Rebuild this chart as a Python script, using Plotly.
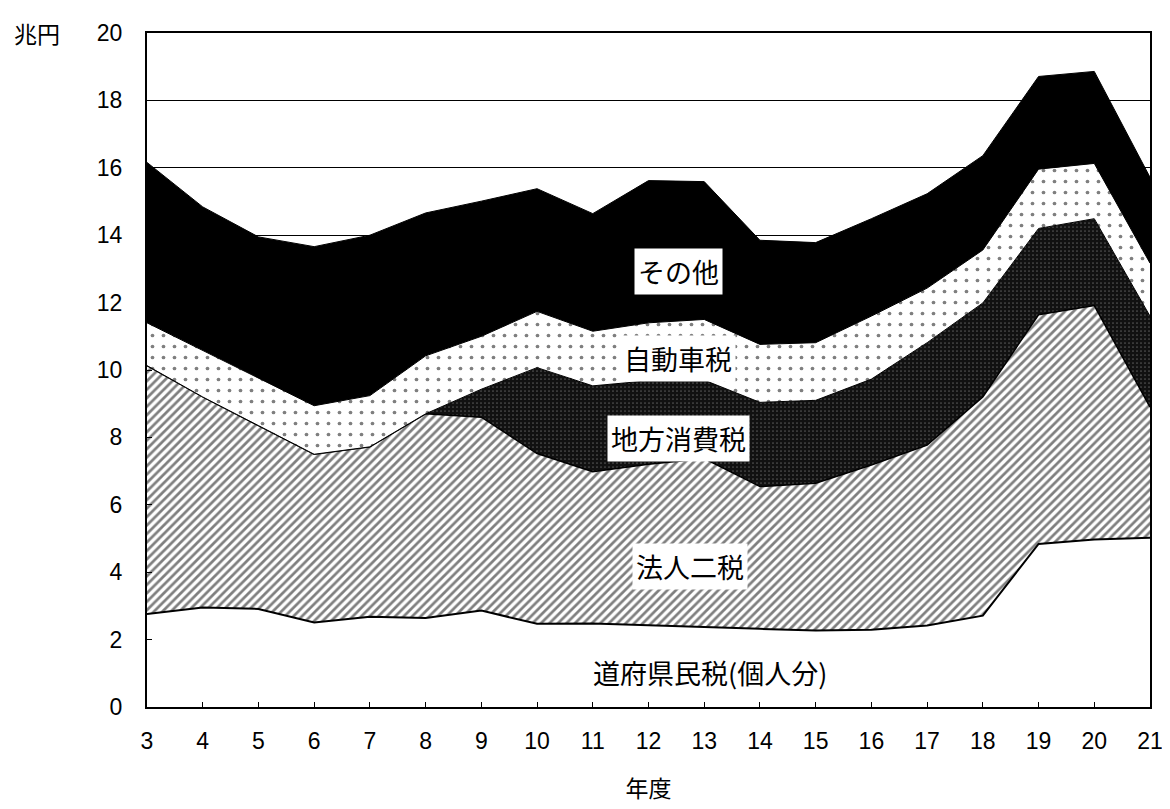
import plotly.graph_objects as go

years = [3, 4, 5, 6, 7, 8, 9, 10, 11, 12, 13, 14, 15, 16, 17, 18, 19, 20, 21]

# 兆円, values per series (stacked bottom -> top)
kojin = [2.76, 2.95, 2.91, 2.51, 2.68, 2.64, 2.86, 2.47, 2.48, 2.42, 2.37, 2.32, 2.27, 2.29, 2.42, 2.71, 4.84, 4.97, 5.02]
hojin = [7.37, 6.25, 5.44, 4.99, 5.04, 6.06, 5.74, 5.05, 4.50, 4.78, 5.00, 4.22, 4.37, 4.89, 5.35, 6.49, 6.80, 6.94, 3.88]
shohi = [0, 0, 0, 0, 0, 0, 0.83, 2.55, 2.55, 2.48, 2.33, 2.50, 2.46, 2.55, 3.04, 2.79, 2.56, 2.58, 2.70]
jidosha = [1.27, 1.38, 1.41, 1.44, 1.52, 1.72, 1.57, 1.67, 1.62, 1.72, 1.80, 1.72, 1.71, 1.87, 1.62, 1.57, 1.76, 1.64, 1.57]
sonota = [4.76, 4.26, 4.19, 4.72, 4.76, 4.24, 4.01, 3.64, 3.49, 4.22, 4.09, 3.09, 2.97, 2.89, 2.80, 2.80, 2.75, 2.73, 2.55]

names = ["道府県民税(個人分)", "法人二税", "地方消費税", "自動車税", "その他"]
xticks = [str(y) for y in years]
yticks = [0, 2, 4, 6, 8, 10, 12, 14, 16, 18, 20]

font_jp = "Noto Sans CJK JP"

fig = go.Figure()

fig.add_trace(go.Scatter(
    x=years, y=kojin, name=names[0], stackgroup="one", mode="lines",
    line=dict(color="black", width=2), fillcolor="white",
))
fig.add_trace(go.Scatter(
    x=years, y=hojin, name=names[1], stackgroup="one", mode="lines",
    line=dict(color="black", width=1.5),
    fillpattern=dict(shape="/", size=6, solidity=0.45, fgcolor="black", bgcolor="white"),
))
fig.add_trace(go.Scatter(
    x=years, y=shohi, name=names[2], stackgroup="one", mode="lines",
    line=dict(color="black", width=1),
    fillpattern=dict(shape=".", size=4, solidity=0.15, fgcolor="#9a9a9a", bgcolor="#111111"),
))
fig.add_trace(go.Scatter(
    x=years, y=jidosha, name=names[3], stackgroup="one", mode="lines",
    line=dict(color="black", width=1),
    fillpattern=dict(shape=".", size=11, solidity=0.09, fgcolor="black", bgcolor="white"),
))
fig.add_trace(go.Scatter(
    x=years, y=sonota, name=names[4], stackgroup="one", mode="lines",
    line=dict(color="black", width=1), fillcolor="black",
))

labels = [
    ("その他", 12.53, 12.93),
    ("自動車税", 12.53, 10.34),
    ("地方消費税", 12.53, 7.98),
    ("法人二税", 12.75, 4.18),
    ("道府県民税(個人分)", 13.1, 1.03),
]
for txt, lx, ly in labels:
    fig.add_annotation(
        x=lx, y=ly, xref="x", yref="y", text=txt, showarrow=False,
        font=dict(family=font_jp, size=27, color="black"),
        bgcolor="white", borderpad=3,
    )

fig.add_annotation(
    xref="x domain", yref="y domain", x=-0.11, y=1.0,
    xanchor="center", yanchor="middle", text="兆円", showarrow=False,
    font=dict(family=font_jp, size=23, color="black"),
)

fig.update_layout(
    width=1170, height=809,
    margin=dict(l=139, r=28, t=19, b=110),
    paper_bgcolor="white", plot_bgcolor="white",
    showlegend=False,
    font=dict(family="Liberation Sans", size=23, color="black"),
)
fig.update_xaxes(
    range=[3, 21], tickvals=years, ticktext=xticks,
    ticks="inside", ticklen=5, tickcolor="black",
    showline=True, linecolor="black", linewidth=2, mirror=True,
    showgrid=False, zeroline=False,
    tickfont=dict(family="Liberation Sans", size=23),
    ticklabelstandoff=12,
    title=dict(text="年度", font=dict(family=font_jp, size=23), standoff=28),
)
fig.update_yaxes(
    range=[0, 20], tickvals=yticks,
    ticks="inside", ticklen=5, tickcolor="black",
    showline=True, linecolor="black", linewidth=2, mirror=True,
    showgrid=True, gridcolor="black", gridwidth=1, zeroline=False,
    tickfont=dict(family="Liberation Sans", size=23),
    ticklabelstandoff=18,
)

fig.write_html("out.html")
